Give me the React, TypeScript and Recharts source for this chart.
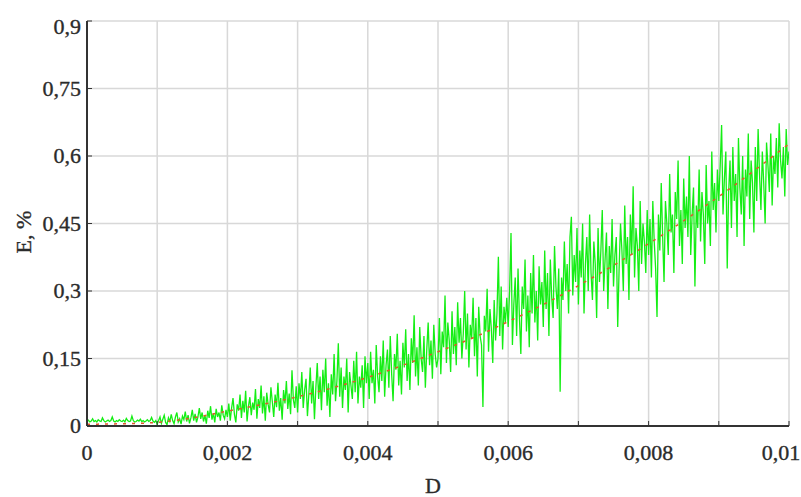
import { CartesianGrid, Line, LineChart, XAxis, YAxis } from "recharts";

// measured E (%) sampled every 0.00002 of D, from 0 to 0.01
const D_STEP = 0.00002;
const E_MEASURED = [
  // 0 .. 0.001
  0.010, 0.013, 0.009, 0.011, 0.016, 0.010, 0.012, 0.009, 0.014, 0.011,
  0.010, 0.018, 0.012, 0.009, 0.011, 0.013, 0.010, 0.012, 0.020, 0.011,
  0.009, 0.012, 0.010, 0.014, 0.011, 0.010, 0.013, 0.009, 0.017, 0.012,
  0.010, 0.011, 0.022, 0.012, 0.009, 0.010, 0.013, 0.011, 0.015, 0.010,
  0.012, 0.009, 0.011, 0.014, 0.010, 0.012, 0.019, 0.011, 0.008, 0.012,
  // 0.001 .. 0.002
  0.004, 0.012, 0.020, 0.006, 0.015, 0.024, 0.008, 0.003, 0.018, 0.010,
  0.026, 0.012, 0.005, 0.020, 0.030, 0.009, 0.016, 0.004, 0.022, 0.014,
  0.032, 0.010, 0.024, 0.006, 0.018, 0.036, 0.012, 0.027, 0.008, 0.020,
  0.040, 0.016, 0.030, 0.010, 0.024, 0.005, 0.034, 0.018, 0.044, 0.014,
  0.028, 0.008, 0.038, 0.020, 0.030, 0.012, 0.046, 0.024, 0.016, 0.036,
  // 0.002 .. 0.003
  0.020, 0.050, 0.012, 0.040, 0.062, 0.026, 0.008, 0.048, 0.034, 0.070,
  0.018, 0.056, 0.030, 0.078, 0.010, 0.044, 0.064, 0.024, 0.052, 0.036,
  0.082, 0.016, 0.060, 0.040, 0.090, 0.028, 0.066, 0.012, 0.074, 0.048,
  0.030, 0.086, 0.054, 0.020, 0.070, 0.042, 0.096, 0.034, 0.062, 0.014,
  0.080, 0.050, 0.100, 0.038, 0.072, 0.026, 0.124, 0.058, 0.040, 0.088,
  // 0.003 .. 0.004
  0.030, 0.095, 0.060, 0.120, 0.040, 0.080, 0.105, 0.022, 0.070, 0.130,
  0.050, 0.100, 0.015, 0.085, 0.140, 0.060, 0.110, 0.035, 0.125, 0.075,
  0.150, 0.045, 0.095, 0.020, 0.115, 0.070, 0.160, 0.055, 0.100, 0.184,
  0.065, 0.130, 0.040, 0.110, 0.080, 0.150, 0.030, 0.120, 0.090, 0.060,
  0.145, 0.075, 0.165, 0.050, 0.110, 0.085, 0.135, 0.040, 0.155, 0.095,
  // 0.004 .. 0.005
  0.140, 0.060, 0.165, 0.095, 0.125, 0.050, 0.180, 0.110, 0.075, 0.155,
  0.100, 0.190, 0.065, 0.135, 0.170, 0.085, 0.200, 0.115, 0.055, 0.160,
  0.125, 0.205, 0.090, 0.145, 0.070, 0.185, 0.130, 0.215, 0.100, 0.160,
  0.080, 0.195, 0.140, 0.246, 0.110, 0.175, 0.090, 0.220, 0.150, 0.120,
  0.200, 0.085, 0.170, 0.230, 0.135, 0.190, 0.105, 0.225, 0.160, 0.130,
  // 0.005 .. 0.006
  0.150, 0.240, 0.115, 0.210, 0.175, 0.290, 0.140, 0.230, 0.190, 0.120,
  0.255, 0.160, 0.220, 0.135, 0.275, 0.185, 0.240, 0.150, 0.205, 0.300,
  0.170, 0.250, 0.130, 0.225, 0.195, 0.285, 0.155, 0.240, 0.110, 0.265,
  0.200, 0.180, 0.042, 0.245, 0.210, 0.305, 0.165, 0.260, 0.215, 0.140,
  0.280, 0.190, 0.250, 0.376, 0.200, 0.310, 0.170, 0.265, 0.230, 0.285,
  // 0.006 .. 0.007
  0.220, 0.300, 0.429, 0.180, 0.270, 0.330, 0.200, 0.350, 0.240, 0.160,
  0.310, 0.260, 0.370, 0.210, 0.290, 0.175, 0.340, 0.250, 0.380, 0.230,
  0.300, 0.190, 0.355, 0.270, 0.320, 0.220, 0.390, 0.260, 0.340, 0.200,
  0.370, 0.285, 0.240, 0.400, 0.310, 0.260, 0.350, 0.076, 0.330, 0.280,
  0.410, 0.300, 0.360, 0.250, 0.420, 0.465, 0.290, 0.380, 0.320, 0.440,
  // 0.007 .. 0.008
  0.270, 0.390, 0.330, 0.450, 0.250, 0.360, 0.420, 0.300, 0.470, 0.340,
  0.280, 0.410, 0.360, 0.240, 0.440, 0.320, 0.390, 0.480, 0.300, 0.370,
  0.430, 0.260, 0.400, 0.340, 0.460, 0.310, 0.380, 0.420, 0.220, 0.350,
  0.450, 0.390, 0.300, 0.490, 0.360, 0.420, 0.280, 0.470, 0.380, 0.533,
  0.330, 0.440, 0.400, 0.300, 0.500, 0.360, 0.450, 0.410, 0.340, 0.480,
  // 0.008 .. 0.009
  0.380, 0.460, 0.330, 0.500, 0.410, 0.350, 0.242, 0.470, 0.390, 0.540,
  0.420, 0.320, 0.500, 0.450, 0.380, 0.560, 0.430, 0.470, 0.340, 0.520,
  0.460, 0.590, 0.400, 0.480, 0.360, 0.550, 0.440, 0.510, 0.420, 0.600,
  0.380, 0.470, 0.530, 0.310, 0.490, 0.440, 0.570, 0.410, 0.520, 0.470,
  0.360, 0.580, 0.450, 0.500, 0.400, 0.610, 0.480, 0.540, 0.430, 0.570,
  // 0.009 .. 0.01
  0.500, 0.580, 0.669, 0.470, 0.550, 0.610, 0.350, 0.520, 0.590, 0.440,
  0.620, 0.500, 0.560, 0.420, 0.640, 0.530, 0.470, 0.600, 0.400, 0.570,
  0.510, 0.650, 0.460, 0.590, 0.540, 0.430, 0.620, 0.500, 0.660, 0.560,
  0.480, 0.610, 0.540, 0.450, 0.630, 0.580, 0.520, 0.650, 0.490, 0.600,
  0.560, 0.640, 0.530, 0.673, 0.590, 0.550, 0.620, 0.510, 0.660, 0.580,
  0.610,
];

// fitted curve
const D_FIT = [
  0, 0.0005, 0.001, 0.0015, 0.002, 0.0025, 0.003, 0.0035, 0.004, 0.0045, 0.005,
  0.0055, 0.006, 0.0065, 0.007, 0.0075, 0.008, 0.0085, 0.009, 0.0095, 0.01,
];
const E_FIT = [
  0.004, 0.005, 0.008, 0.018, 0.033, 0.048, 0.065, 0.085, 0.108, 0.135, 0.165,
  0.196, 0.232, 0.27, 0.312, 0.357, 0.405, 0.456, 0.51, 0.567, 0.627,
];

const X_TICKS = [0, 0.001, 0.002, 0.003, 0.004, 0.005, 0.006, 0.007, 0.008, 0.009, 0.01];
const X_TICK_LABELS = ["0", "", "0,002", "", "0,004", "", "0,006", "", "0,008", "", "0,01"];
const Y_TICKS = [0, 0.15, 0.3, 0.45, 0.6, 0.75, 0.9];
const Y_TICK_LABELS = ["0", "0,15", "0,3", "0,45", "0,6", "0,75", "0,9"];

const measured = E_MEASURED.map((e, i) => ({ d: i * D_STEP, e }));
const fit = D_FIT.map((d, i) => ({ d, e: E_FIT[i] }));

const FONT = "'Liberation Serif', 'Times New Roman', serif";
const FRAME = "#333";
const TEXT = { fontFamily: FONT, fontSize: 22, fill: "#2b2b2b", stroke: "#2b2b2b", strokeWidth: 0.35 };

function XTick({ x, index }: any) {
  const label = X_TICK_LABELS[index] ?? "";
  const last = index === X_TICK_LABELS.length - 1;
  return (
    <text x={last ? x - 8 : x} y={460} textAnchor="middle" {...TEXT}>
      {label}
    </text>
  );
}

function YTick({ y, index }: any) {
  return (
    <text x={81} y={Math.max(y, 27) + 7} textAnchor="end" {...TEXT}>
      {Y_TICK_LABELS[index]}
    </text>
  );
}

export default function App() {
  return (
    <div style={{ position: "absolute", left: 0, top: 0, width: 801, height: 497, background: "#fff" }}>
      <LineChart width={801} height={497} margin={{ top: 21, right: 12, bottom: 0, left: 0 }}>
        <CartesianGrid stroke="#d8d8d8" strokeWidth={1.5} />
        <XAxis
          xAxisId={0}
          dataKey="d"
          type="number"
          domain={[0, 0.01]}
          ticks={X_TICKS}
          height={71}
          interval={0}
          axisLine={{ stroke: FRAME, strokeWidth: 2 }}
          tickLine={{ stroke: FRAME }}
          tickSize={-5}
          tick={<XTick />}
          allowDataOverflow
        />
        <XAxis
          xAxisId="top"
          orientation="top"
          dataKey="d"
          type="number"
          domain={[0, 0.01]}
          ticks={X_TICKS}
          height={0}
          interval={0}
          axisLine={{ stroke: FRAME, strokeWidth: 2 }}
          tickLine={{ stroke: FRAME }}
          tickSize={-5}
          tick={false}
        />
        <YAxis
          yAxisId={0}
          type="number"
          domain={[0, 0.9]}
          ticks={Y_TICKS}
          width={87}
          interval={0}
          axisLine={{ stroke: FRAME, strokeWidth: 2 }}
          tickLine={{ stroke: FRAME }}
          tickSize={-5}
          tick={<YTick />}
          allowDataOverflow
        />
        <YAxis
          yAxisId="right"
          orientation="right"
          type="number"
          domain={[0, 0.9]}
          ticks={Y_TICKS}
          width={0}
          interval={0}
          axisLine={{ stroke: FRAME, strokeWidth: 2 }}
          tickLine={{ stroke: FRAME }}
          tickSize={-5}
          tick={false}
        />
        <Line
          data={measured}
          dataKey="e"
          type="linear"
          stroke="#14ee14"
          strokeWidth={1.3}
          dot={false}
          isAnimationActive={false}
        />
        <Line
          data={fit}
          dataKey="e"
          type="monotone"
          stroke="#e0562a"
          strokeWidth={1.5}
          strokeDasharray="3 6"
          dot={false}
          isAnimationActive={false}
        />
      </LineChart>
      <svg width={801} height={497} style={{ position: "absolute", left: 0, top: 0, pointerEvents: "none" }}>
        <text x={433} y={493} textAnchor="middle" {...TEXT}>
          D
        </text>
        <text transform="translate(31, 232) rotate(-90)" textAnchor="middle" {...TEXT}>
          E, %
        </text>
      </svg>
    </div>
  );
}
